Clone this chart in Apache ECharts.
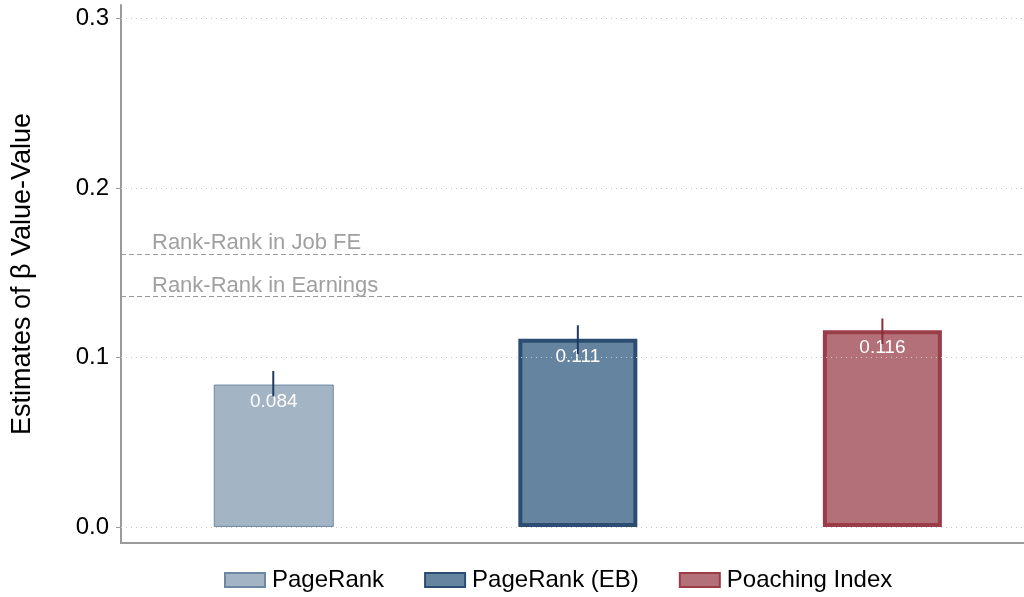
<!DOCTYPE html>
<html>
<head>
<meta charset="utf-8">
<script src="https://cdn.jsdelivr.net/npm/echarts@6/dist/echarts.min.js"></script>
<style>
  html, body { margin: 0; padding: 0; background: #fff; }
  #main { width: 1024px; height: 597px; }
</style>
</head>
<body>
<div id="main"></div>
<script>
// data
var names = ['PageRank', 'PageRank (EB)', 'Poaching Index'];
var positions = [1, 2, 3];
var estimates = [0.084, 0.111, 0.116];
var ciLow = [0.077, 0.102, 0.108];
var ciHigh = [0.092, 0.119, 0.123];
var refNames = ['Rank-Rank in Job FE', 'Rank-Rank in Earnings'];
var refValues = [0.161, 0.136];
var yTicks = [0, 0.1, 0.2, 0.3];

var fills = ['#a3b4c5', '#64849f', '#b37078'];
var borders = ['#6d88a3', '#2b4d72', '#9b3d48'];
var borderWidths = [1, 4, 4];
var barWidths = [120, 119, 119];
var ciColors = ['#1f3b60', '#1f3b60', '#8c2d3a'];
var font = 'Liberation Sans';

var dom = document.getElementById('main');
var myChart = echarts.init(dom);

var series = [];
for (var i = 0; i < names.length; i++) {
  series.push({
    name: names[i],
    type: 'bar',
    barWidth: barWidths[i],
    barGap: '-100%',
    data: [[positions[i], estimates[i]]],
    itemStyle: {
      color: fills[i],
      borderColor: borders[i],
      borderWidth: borderWidths[i]
    },
    label: {
      show: true,
      position: 'insideTop',
      distance: 8,
      color: '#fff',
      fontSize: 19,
      fontFamily: font,
      formatter: function (p) { return p.value[1].toFixed(3); }
    },
    z: 2
  });
}

// error bars
var ciData = [];
for (var k = 0; k < positions.length; k++) {
  ciData.push([positions[k], ciLow[k], ciHigh[k], k]);
}
series.push({
  type: 'custom',
  data: ciData,
  z: 5,
  renderItem: function (params, api) {
    var a = api.coord([api.value(0), api.value(1)]);
    var b = api.coord([api.value(0), api.value(2)]);
    return {
      type: 'line',
      shape: { x1: a[0], y1: a[1], x2: b[0], y2: b[1] },
      style: { stroke: ciColors[api.value(3)], lineWidth: 2 }
    };
  }
});

// reference lines and y grid lines
var marks = [];
for (var r = 0; r < refValues.length; r++) {
  marks.push({
    yAxis: refValues[r],
    label: { formatter: refNames[r] },
    lineStyle: { color: '#9a9a9a', type: [5, 3], width: 1 }
  });
}
for (var g = 0; g < yTicks.length; g++) {
  marks.push({
    yAxis: yTicks[g],
    label: { show: false },
    lineStyle: { color: '#c8c8c8', type: [1, 4], width: 1 }
  });
}
series.push({
  type: 'line',
  data: [],
  silent: true,
  z: 1,
  markLine: {
    symbol: 'none',
    silent: true,
    animation: false,
    precision: 3,
    label: {
      position: 'insideStartTop',
      distance: [31, 0],
      color: '#a0a0a0',
      fontSize: 22,
      fontFamily: font
    },
    data: marks
  }
});

var option = {
  animation: false,
  grid: { left: 121, right: 0, top: 5, bottom: 54, outerBoundsMode: 'none' },
  legend: {
    bottom: 0,
    left: 219,
    icon: 'rect',
    itemWidth: 40,
    itemHeight: 14,
    itemGap: 40,
    data: names,
    textStyle: { fontSize: 24, color: '#000', fontFamily: font, padding: [0, 0, 0, 2] }
  },
  xAxis: {
    type: 'value',
    min: 0.5,
    max: 3.465,
    axisLine: { show: true, onZero: false, lineStyle: { color: '#9a9a9a', width: 2 } },
    axisTick: { show: false },
    axisLabel: { show: false },
    splitLine: { show: false }
  },
  yAxis: {
    type: 'value',
    min: -0.0095,
    max: 0.308,
    name: 'Estimates of β Value-Value',
    nameLocation: 'middle',
    nameGap: 85,
    nameTextStyle: { fontSize: 27, color: '#000', fontFamily: font },
    axisLine: { show: true, lineStyle: { color: '#9a9a9a', width: 2 } },
    axisTick: { show: true, length: 5, customValues: yTicks, lineStyle: { color: '#9a9a9a', width: 1 } },
    axisLabel: {
      customValues: yTicks,
      margin: 12,
      fontSize: 24,
      color: '#000',
      fontFamily: font,
      formatter: function (v) { return v.toFixed(1); }
    },
    splitLine: { show: false }
  },
  series: series
};

myChart.setOption(option);
</script>
</body>
</html>
